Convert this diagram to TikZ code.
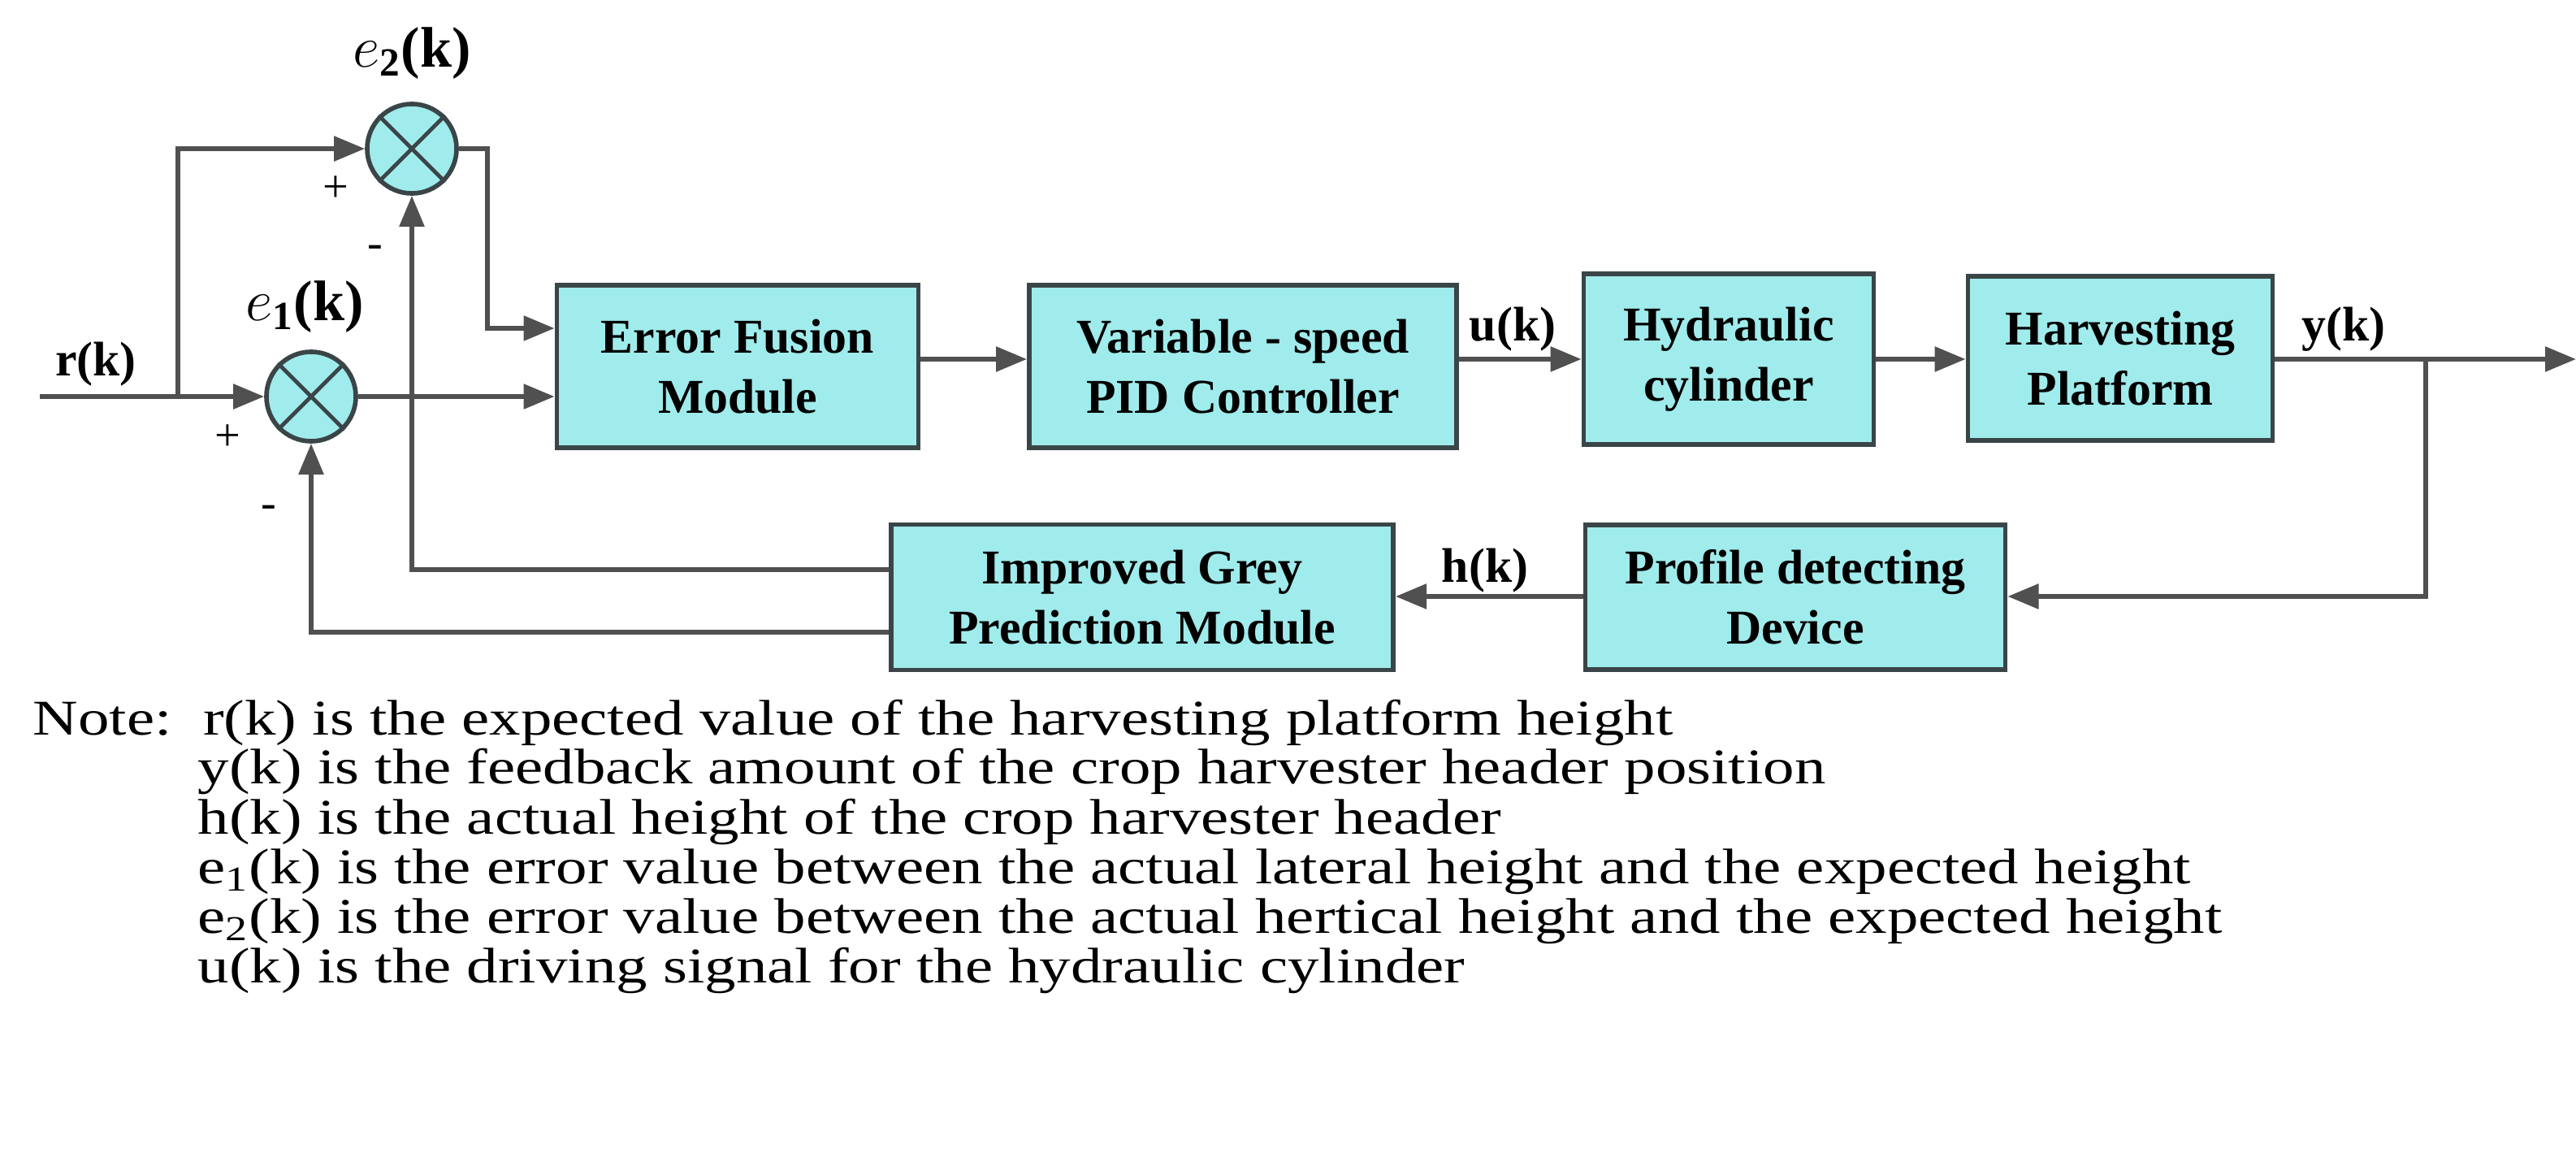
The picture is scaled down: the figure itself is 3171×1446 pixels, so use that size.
\documentclass[tikz,border=0pt]{standalone}
\usepackage{fontspec}
\setmainfont{Liberation Serif}
\newfontfamily\notefont{Liberation Serif}[FakeStretch=1.25]
\usetikzlibrary{arrows.meta}
\definecolor{boxfill}{HTML}{A0EBEB}
\definecolor{edge}{HTML}{3A4548}
\definecolor{wire}{HTML}{505050}
\begin{document}
\begin{tikzpicture}[x=0.01cm,y=-0.01cm,
  blk/.style={draw=edge,line width=1.6pt,fill=boxfill,inner sep=0pt,font=\fontsize{17}{21}\selectfont\bfseries,align=center},
  sum/.style={circle,draw=edge,line width=1.6pt,fill=boxfill,minimum size=1.1cm,inner sep=0pt},
  w/.style={draw=wire,line width=1.6pt},
  a/.style={w,-{Triangle[length=0.38cm,width=0.3cm]}},
  lbl/.style={font=\fontsize{17}{20}\selectfont\bfseries},
  el/.style={font=\fontsize{20}{22}\selectfont\bfseries},
  sg/.style={font=\fontsize{16}{18}\selectfont},
  note/.style={font=\notefont\fontsize{17.5}{20}\selectfont,anchor=base west,inner sep=0pt}]
\useasboundingbox (0,0) rectangle (3171,1446);
% blocks
\node[blk,minimum width=4.45cm,minimum height=2.0cm] (ef) at (908,451) {Error Fusion\\Module};
\node[blk,minimum width=5.26cm,minimum height=2.0cm] (pid) at (1530,451) {Variable - speed\\PID Controller};
\node[blk,minimum width=3.57cm,minimum height=2.1cm] (hc) at (2128,442) {Hydraulic\\cylinder};
\node[blk,minimum width=3.75cm,minimum height=2.02cm] (hp) at (2610,441) {Harvesting\\Platform};
\node[blk,minimum width=5.17cm,minimum height=1.78cm] (pd) at (2210,735) {Profile detecting\\Device};
\node[blk,minimum width=6.18cm,minimum height=1.79cm] (gp) at (1406,735) {Improved Grey\\Prediction Module};
% sums
\node[sum] (s1) at (383,488) {};
\node[sum] (s2) at (507,183) {};
\foreach \s in {s1,s2}{
  \draw[edge,line width=1.4pt] (\s.north west) -- (\s.south east);
  \draw[edge,line width=1.4pt] (\s.north east) -- (\s.south west);}
% coordinates
\coordinate (in) at (49,488);
\coordinate (br) at (219,488);
\coordinate (out) at (3171,442);
\coordinate (yb) at (2986,442);
% wires
\draw[a] (in) -- (s1);
\draw[a] (br) |- (s2);
\draw[a] (s2.east) -| (600,404) -- (ef.west |- 0,404);
\draw[a] (s1.east) -- (ef.west |- s1);
\draw[a] (ef.east |- 0,442) -- (pid.west |- 0,442);
\draw[a] (pid.east |- 0,442) -- (hc.west |- 0,442);
\draw[a] (hc.east |- 0,442) -- (hp.west |- 0,442);
\draw[a] (hp.east |- 0,442) -- (out);
\draw[a] (yb) |- (pd.east |- 0,734);
\draw[a] (pd.west |- 0,734) -- (gp.east |- 0,734);
\draw[a] (gp.west |- 0,701) -| (s2.south);
\draw[a] (gp.west |- 0,778) -| (s1.south);
% labels
\node[el] (e2) at (507,66) {$e_{\mathbf{2}}$(k)};
\node[el] (e1) at (375,378) {$e_{\mathbf{1}}$(k)};
\node[lbl] (rk) at (118,448) {r(k)};
\node[lbl] (uk) at (1862,405) {u(k)};
\node[lbl] (yk) at (2885,405) {y(k)};
\node[lbl] (hk) at (1828,702) {h(k)};
\node[sg] (p2) at (413,233) {+};
\node[sg] (m2) at (462,310) {-};
\node[sg] (p1) at (280,539) {+};
\node[sg] (m1) at (331,630) {-};
% notes
\node[note] (n0) at (40,904) {Note:\ \ r(k) is the expected value of the harvesting platform height};
\node[note] (n1) at (243,965) {y(k) is the feedback amount of the crop harvester header position};
\node[note] (n2) at (243,1026) {h(k) is the actual height of the crop harvester header};
\node[note] (n3) at (243,1087) {e\textsubscript{1}(k) is the error value between the actual lateral height and the expected height};
\node[note] (n4) at (243,1148) {e\textsubscript{2}(k) is the error value between the actual hertical height and the expected height};
\node[note] (n5) at (243,1209) {u(k) is the driving signal for the hydraulic cylinder};
\end{tikzpicture}
\end{document}
